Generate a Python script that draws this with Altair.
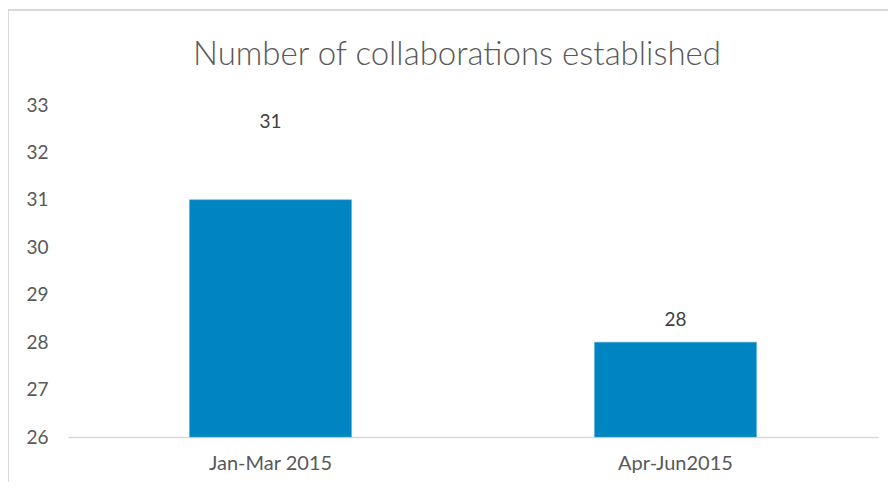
import altair as alt
import pandas as pd

categories = ["Jan-Mar 2015", "Apr-Jun2015"]
values = [31, 28]
y_ticks = [26, 27, 28, 29, 30, 31, 32, 33]
title_text = "Number of collaborations established"

df = pd.DataFrame({"period": categories, "count": values})

FONT = "Lato"
GREY = "#595959"

x_enc = alt.X("period:N", sort=categories, title=None,
              scale=alt.Scale(paddingInner=0.6, paddingOuter=0.3),
              axis=alt.Axis(labelAngle=0, ticks=False, domainColor="#d9d9d9", domainWidth=1.5,
                            labelFont=FONT, labelFontSize=20, labelColor=GREY, labelPadding=16))
y_enc = alt.Y("count:Q", title=None,
              scale=alt.Scale(domain=[26, 33], zero=False, nice=False),
              axis=alt.Axis(values=y_ticks, grid=False, ticks=False, domain=False,
                            labelFont=FONT, labelFontSize=19, labelColor=GREY, labelPadding=20))

base = alt.Chart(df)

bars = base.mark_bar(color="#0085c3", stroke="#4aa6d6", strokeWidth=0.5).encode(
    x=x_enc, y=y_enc, y2=alt.datum(26)
)

lab1 = base.transform_filter(alt.datum.period == categories[0]).mark_text(
    font=FONT, fontSize=19, color="#404040", baseline="middle", dy=-78
).encode(x=alt.X("period:N", sort=categories), y="count:Q", text="count:Q")

lab2 = base.transform_filter(alt.datum.period == categories[1]).mark_text(
    font=FONT, fontSize=19, color="#404040", baseline="middle", dy=-22
).encode(x=alt.X("period:N", sort=categories), y="count:Q", text="count:Q")

title_mark = alt.Chart(pd.DataFrame({"t": [title_text]})).mark_text(
    font=FONT, fontSize=33, fontWeight=300, color=GREY, baseline="alphabetic", align="center"
).encode(x=alt.value(389), y=alt.value(-40), text="t:N")

border_top = alt.Chart(pd.DataFrame({"b": [0]})).mark_rule(color="#d9d9d9", strokeWidth=2).encode(
    x=alt.value(-60), x2=alt.value(880), y=alt.value(-95)
)
border_left = alt.Chart(pd.DataFrame({"b": [0]})).mark_rule(color="#d9d9d9", strokeWidth=2).encode(
    x=alt.value(-60), y=alt.value(-95), y2=alt.value(400)
)

chart = alt.layer(bars, lab1, lab2, title_mark, border_top, border_left).properties(
    width=810, height=332,
    padding={"left": 60, "top": 97, "right": 10, "bottom": 45},
    autosize=alt.AutoSizeParams(type="none"),
).configure(background="white", view=alt.ViewConfig(stroke=None))

chart.save("out.html", embed_options={"renderer": "svg", "actions": False})
